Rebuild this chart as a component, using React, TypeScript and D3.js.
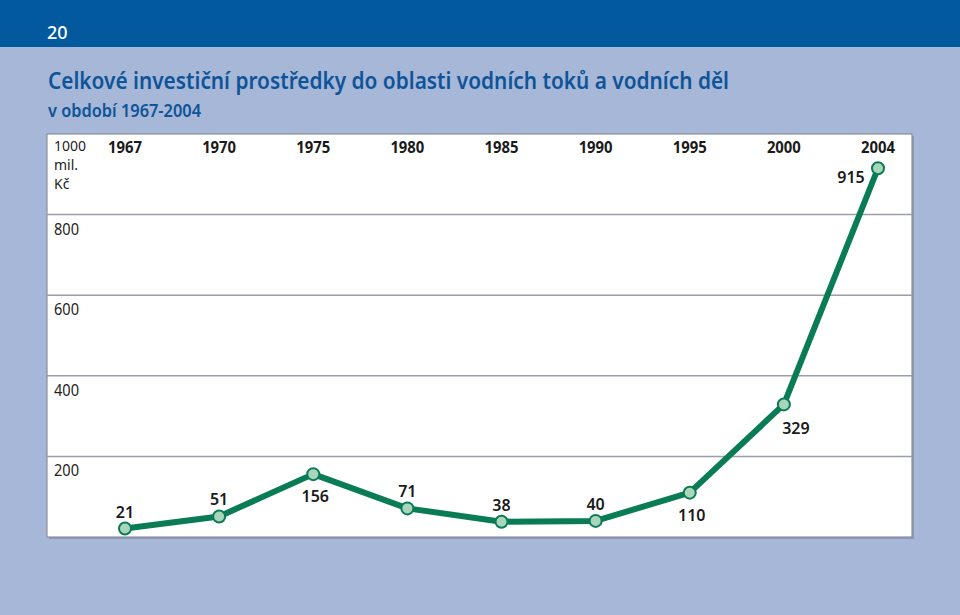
import React from "react";
import * as d3 from "d3";

// chart data
const years = ["1967", "1970", "1975", "1980", "1985", "1990", "1995", "2000", "2004"];
const investments = [21, 51, 156, 71, 38, 40, 110, 329, 915];
const yTicks = [200, 400, 600, 800];
const unitLines = ["1000", "mil.", "Kč"];
// where each value label sits relative to its point
const labelSide = ["above", "above", "below", "above", "above", "above", "below", "belowRight", "left"];

const title = "Celkové investiční prostředky do oblasti vodních toků a vodních děl";
const subtitle = "v období 1967-2004";

const W = 960;
const H = 615;
const plot = { left: 47, right: 912, top: 134, bottom: 537 };
const FONT = "'Noto Sans', 'Open Sans', sans-serif";

const App = () => {
  const x = d3.scalePoint<string>().domain(years).range([125, 878]);
  const y = d3.scaleLinear().domain([0, 1000]).range([plot.bottom, plot.top]);

  const points = years.map((yr, i) => ({ yr, v: investments[i], side: labelSide[i] }));

  const line = d3
    .line<{ yr: string; v: number }>()
    .x((d) => x(d.yr) as number)
    .y((d) => y(d.v));

  const labelPos = (side: string) => {
    switch (side) {
      case "below":
        return { dx: 2, dy: 28 };
      case "belowRight":
        return { dx: 12, dy: 30 };
      case "left":
        return { dx: -27, dy: 15 };
      default:
        return { dx: 0, dy: -11 };
    }
  };

  return (
    <svg
      width={W}
      height={H}
      style={{ position: "absolute", left: 0, top: 0, display: "block" }}
      fontFamily={FONT}
    >
      <rect x={0} y={0} width={W} height={H} fill="#a7b7d7" />
      <rect x={0} y={0} width={W} height={47} fill="#02599d" />
      <text x={47} y={39} fill="#ffffff" fontSize={18} fontWeight={500}>
        20
      </text>

      <text x={48} y={89} fill="#0d5499" fontSize={24} fontWeight={600} textLength={681} lengthAdjust="spacingAndGlyphs">
        {title}
      </text>
      <text x={48} y={117} fill="#0d5499" fontSize={17} fontWeight={600} textLength={153} lengthAdjust="spacingAndGlyphs">
        {subtitle}
      </text>

      {/* plot frame */}
      <rect
        x={plot.left + 2}
        y={plot.top + 2}
        width={plot.right - plot.left}
        height={plot.bottom - plot.top}
        fill="#8d99b3"
      />
      <rect
        x={plot.left}
        y={plot.top}
        width={plot.right - plot.left}
        height={plot.bottom - plot.top}
        fill="#ffffff"
        stroke="#8a8f99"
        strokeWidth={1.2}
      />

      {/* grid lines and y labels */}
      {yTicks.map((t) => (
        <g key={t}>
          <line x1={plot.left} x2={plot.right} y1={y(t)} y2={y(t)} stroke="#9a9ea6" strokeWidth={1.5} />
          <text x={54} y={y(t) + 20} fontSize={16} fill="#222" textLength={25} lengthAdjust="spacingAndGlyphs">
            {t}
          </text>
        </g>
      ))}
      {unitLines.map((s, i) => (
        <text
          key={s}
          x={54}
          y={151 + i * 19}
          fontSize={14}
          fill="#222"
          textLength={i === 0 ? 32 : undefined}
          lengthAdjust="spacingAndGlyphs"
        >
          {s}
        </text>
      ))}

      {/* year labels along the top */}
      {years.map((yr) => (
        <text
          key={yr}
          x={x(yr)}
          y={153}
          textAnchor="middle"
          fontSize={16}
          fontWeight={700}
          fill="#1a1a1a"
          textLength={34}
          lengthAdjust="spacingAndGlyphs"
        >
          {yr}
        </text>
      ))}

      <path d={line(points) as string} fill="none" stroke="#0a7c55" strokeWidth={6} strokeLinejoin="round" strokeLinecap="round" />

      {points.map((p) => {
        const cx = x(p.yr) as number;
        const cy = y(p.v);
        const { dx, dy } = labelPos(p.side);
        return (
          <g key={p.yr}>
            <circle cx={cx} cy={cy} r={6} fill="#a9d5bb" stroke="#0a7c55" strokeWidth={2} />
            <text x={cx + dx} y={cy + dy} textAnchor="middle" fontSize={16} fontWeight={600} fill="#1a1a1a">
              {p.v}
            </text>
          </g>
        );
      })}
    </svg>
  );
};

export default App;
